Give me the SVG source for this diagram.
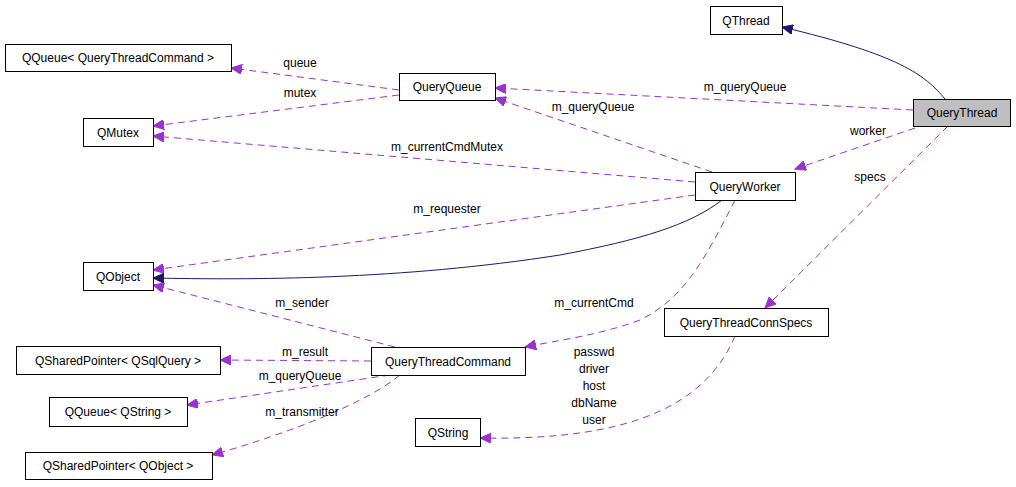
<svg xmlns="http://www.w3.org/2000/svg" width="1016" height="487" viewBox="0 0 1016 487">
<style>
.n rect{fill:#fff;stroke:#000;stroke-width:1}
text{font-family:"Liberation Sans",Arial,sans-serif;font-size:12px;fill:#000}
.n text{text-anchor:middle}
.d{fill:none;stroke:#9a32cd;stroke-dasharray:7,5;marker-end:url(#ap)}
.s{fill:none;stroke:#191970;marker-end:url(#an)}
.l{text-anchor:middle}
</style>
<defs>
<marker id="ap" markerWidth="12" markerHeight="10" refX="11" refY="5" orient="auto" markerUnits="userSpaceOnUse"><path d="M0,0L11,5L0,10z" fill="#9a32cd" stroke="#9a32cd"/></marker>
<marker id="an" markerWidth="12" markerHeight="10" refX="11" refY="5" orient="auto" markerUnits="userSpaceOnUse"><path d="M0,0L11,5L0,10z" fill="#191970" stroke="#191970"/></marker>
</defs>
<rect width="1016" height="487" fill="#fff"/>
<g id="connectors">
<path class="s" d="M945,99C925,75 900,55 782,27"/>
<path class="d" d="M913,110L495,88"/><text class="l" x="745" y="91">m_queryQueue</text>
<path class="d" d="M915,128L795,169"/><text class="l" x="868" y="135">worker</text>
<path class="d" d="M948,126L765,308"/><text class="l" x="870" y="181">specs</text>
<path class="d" d="M399,90L231,68"/><text class="l" x="300" y="67">queue</text>
<path class="d" d="M399,95L153,126"/><text class="l" x="300" y="97">mutex</text>
<path class="d" d="M712,172L495,98"/><text class="l" x="593" y="111">m_queryQueue</text>
<path class="d" d="M695,182L153,136"/><text class="l" x="447" y="151">m_currentCmdMutex</text>
<path class="d" d="M695,195L153,270"/><text class="l" x="447" y="213">m_requester</text>
<path class="s" d="M722,200C690,225 640,240 560,255C400,280 250,280 153,278"/>
<path class="d" d="M735,200C700,270 680,300 640,320C600,335 560,340 525,347"/><text class="l" x="594" y="307">m_currentCmd</text>
<path class="d" d="M395,347L153,285"/><text class="l" x="302" y="307">m_sender</text>
<path class="d" d="M371,361L220,360"/><text class="l" x="305" y="356">m_result</text>
<path class="d" d="M390,375L187,405"/><text class="l" x="300" y="380">m_queryQueue</text>
<path class="d" d="M400,375C370,400 300,430 212,455"/><text class="l" x="302" y="416">m_transmitter</text>
<path class="d" d="M735,336C700,420 600,440 480,438"/>
<text class="l" x="594" y="356">passwd</text><text class="l" x="594" y="373">driver</text><text class="l" x="594" y="390">host</text><text class="l" x="594" y="407">dbName</text><text class="l" x="594" y="424">user</text>
</g>
<g id="QThread" class="n"><rect x="710.5" y="6.5" width="72" height="28"/><text x="746" y="25">QThread</text></g>
<g id="QueryThread" class="n"><rect x="913.5" y="99.5" width="97" height="27" style="fill:#bfbfbf"/><text x="962" y="117">QueryThread</text></g>
<g id="QQueueQTC" class="n"><rect x="5.5" y="44.5" width="226" height="27"/><text x="118" y="62">QQueue&lt; QueryThreadCommand &gt;</text></g>
<g id="QueryQueue" class="n"><rect x="399.5" y="73.5" width="96" height="27"/><text x="447" y="91">QueryQueue</text></g>
<g id="QMutex" class="n"><rect x="83.5" y="118.5" width="70" height="28"/><text x="118" y="137">QMutex</text></g>
<g id="QueryWorker" class="n"><rect x="695.5" y="172.5" width="100" height="28"/><text x="745" y="191">QueryWorker</text></g>
<g id="QObject" class="n"><rect x="83.5" y="262.5" width="70" height="28"/><text x="118" y="281">QObject</text></g>
<g id="QueryThreadConnSpecs" class="n"><rect x="664.5" y="308.5" width="164" height="28"/><text x="746" y="327">QueryThreadConnSpecs</text></g>
<g id="QSPQSqlQuery" class="n"><rect x="16.5" y="346.5" width="204" height="28"/><text x="118" y="365">QSharedPointer&lt; QSqlQuery &gt;</text></g>
<g id="QueryThreadCommand" class="n"><rect x="371.5" y="347.5" width="154" height="28"/><text x="448" y="366">QueryThreadCommand</text></g>
<g id="QQueueQString" class="n"><rect x="49.5" y="397.5" width="138" height="29"/><text x="118" y="416">QQueue&lt; QString &gt;</text></g>
<g id="QString" class="n"><rect x="415.5" y="418.5" width="65" height="28"/><text x="448" y="437">QString</text></g>
<g id="QSPQObject" class="n"><rect x="25.5" y="452.5" width="187" height="27"/><text x="118" y="470">QSharedPointer&lt; QObject &gt;</text></g>
</svg>
